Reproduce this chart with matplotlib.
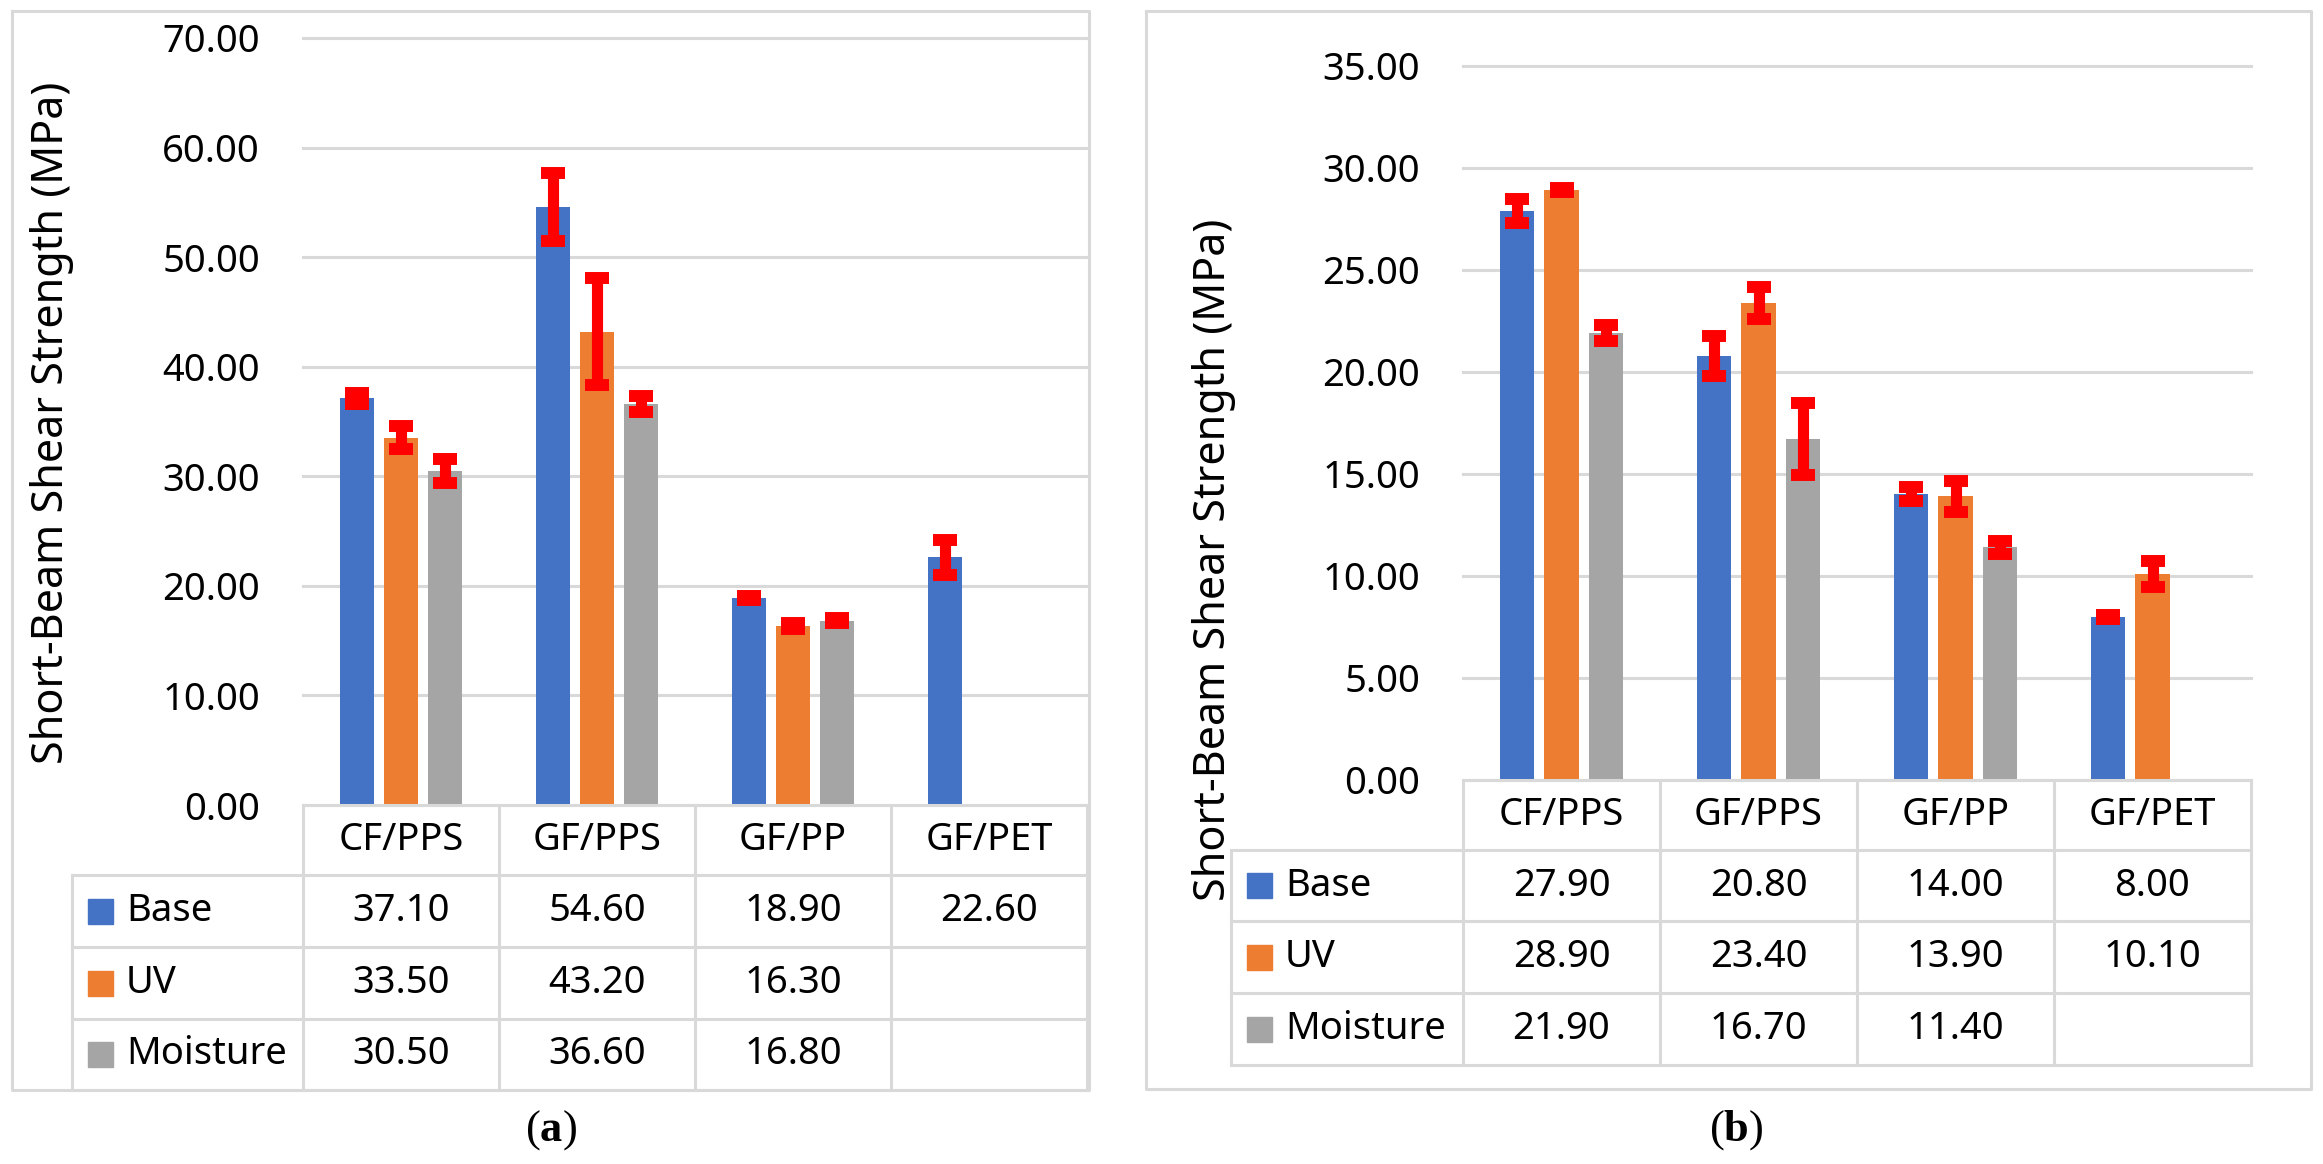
import numpy as np
import matplotlib
matplotlib.use("Agg")
import matplotlib.pyplot as plt
from matplotlib.lines import Line2D
from matplotlib.patches import Rectangle

plt.rcParams["font.family"] = "Noto Sans"
plt.rcParams["mathtext.fontset"] = "custom"
plt.rcParams["mathtext.rm"] = "Liberation Serif"
plt.rcParams["mathtext.bf"] = "Liberation Serif:bold"

nan = np.nan
categories = ["CF/PPS", "GF/PPS", "GF/PP", "GF/PET"]
series = ["Base", "UV", "Moisture"]
colors = ["#4472C4", "#ED7D31", "#A5A5A5"]

# panel (a)
a_base = [37.10, 54.60, 18.90, 22.60]
a_uv = [33.50, 43.20, 16.30, nan]
a_moist = [30.50, 36.60, 16.80, nan]
a_base_err = [0.50, 3.10, 0.15, 1.60]
a_uv_err = [1.05, 4.90, 0.27, nan]
a_moist_err = [1.10, 0.70, 0.23, nan]

# panel (b)
b_base = [27.90, 20.80, 14.00, 8.00]
b_uv = [28.90, 23.40, 13.90, 10.10]
b_moist = [21.90, 16.70, 11.40, nan]
b_base_err = [0.58, 0.98, 0.34, 0.11]
b_uv_err = [0.10, 0.79, 0.75, 0.62]
b_moist_err = [0.38, 1.76, 0.30, nan]

W, H = 2323, 1164
GRID = "#D9D9D9"
fig = plt.figure(figsize=(W / 100, H / 100), dpi=100)


def fx(x):
    return x / W


def fy(y):
    return 1 - y / H


def line(xs, ys):
    fig.add_artist(Line2D([fx(v) for v in xs], [fy(v) for v in ys], color=GRID,
                          lw=2.2, transform=fig.transFigure))


def panel(box, axbox, ymax, step, vals, errs, rows, leg_left, ylab, cap_txt, cap_pos):
    # outer border
    x0, y0, x1, y1 = box
    line([x0, x1, x1, x0, x0], [y0, y0, y1, y1, y0])

    ax0, ay0, ax1, ay1 = axbox
    ax = fig.add_axes([fx(ax0), fy(ay1), (ax1 - ax0) / W, (ay1 - ay0) / H])
    x = np.arange(len(categories))
    for k in range(3):
        v = np.array(vals[k])
        e = np.array(errs[k])
        pos = x + (k - 1) * 0.224
        ax.bar(pos, v, width=0.173, color=colors[k], zorder=2)
        m = ~np.isnan(v)
        ax.errorbar(pos[m], v[m], yerr=e[m], fmt="none", ecolor="#FF0000",
                    elinewidth=8, capsize=8.3, capthick=8.6, zorder=3)
    ax.set_xlim(-0.5, 3.5)
    ax.set_ylim(0, ymax)
    ticks = np.arange(0, ymax + 0.001, step)
    ax.set_yticks(ticks)
    ax.set_yticklabels([f"{t:.2f}" for t in ticks])
    ax.tick_params(axis="y", length=0, pad=31, labelsize=27.5)
    ax.set_xticks([])
    for s in ax.spines.values():
        s.set_visible(False)
    ax.yaxis.grid(True, color=GRID, lw=2.2)
    ax.set_axisbelow(True)
    for gl in ax.get_ygridlines():
        gl.set_clip_on(False)

    # data table under the chart
    colw = (ax1 - ax0) / len(categories)
    top, hdr = ay1, rows[0]
    bottom = rows[-1]
    line([ax0, ax1], [top, top])
    for r in rows:
        line([leg_left, ax1], [r, r])
    for i in range(len(categories) + 1):
        line([ax0 + i * colw] * 2, [top, bottom])
    line([leg_left, leg_left], [hdr, bottom])
    for i, c in enumerate(categories):
        fig.text(fx(ax0 + (i + 0.5) * colw), fy((top + hdr) / 2), c,
                 ha="center", va="center", fontsize=27.5)
    for k in range(3):
        yc = (rows[k] + rows[k + 1]) / 2
        fig.add_artist(Rectangle((fx(leg_left + 16), fy(yc + 12.5)), 25 / W, 25 / H,
                                 color=colors[k], transform=fig.transFigure))
        fig.text(fx(leg_left + 54), fy(yc), series[k], ha="left", va="center",
                 fontsize=27.5)
        for i in range(len(categories)):
            v = vals[k][i]
            if not np.isnan(v):
                fig.text(fx(ax0 + (i + 0.5) * colw), fy(yc), f"{v:.2f}",
                         ha="center", va="center", fontsize=27.5)

    fig.text(fx(ylab[0]), fy(ylab[1]), "Short-Beam Shear Strength (MPa)",
             rotation=90, ha="center", va="center", fontsize=31)
    fig.text(fx(cap_pos[0]), fy(cap_pos[1]), cap_txt, ha="center", va="center",
             fontsize=32)
    return ax


panel((12, 11, 1089, 1090), (303, 38, 1087, 805), 70, 10,
      [a_base, a_uv, a_moist], [a_base_err, a_uv_err, a_moist_err],
      [875, 947, 1019, 1090], 72, (52, 423),
      r"$\mathrm{(}\mathbf{a}\mathrm{)}$", (551, 1130))

panel((1146, 11, 2311, 1089), (1463, 66, 2251, 780), 35, 5,
      [b_base, b_uv, b_moist], [b_base_err, b_uv_err, b_moist_err],
      [850, 921, 993, 1065], 1231, (1214, 560),
      r"$\mathrm{(}\mathbf{b}\mathrm{)}$", (1736, 1130))

fig.savefig("out.png", dpi=100)
